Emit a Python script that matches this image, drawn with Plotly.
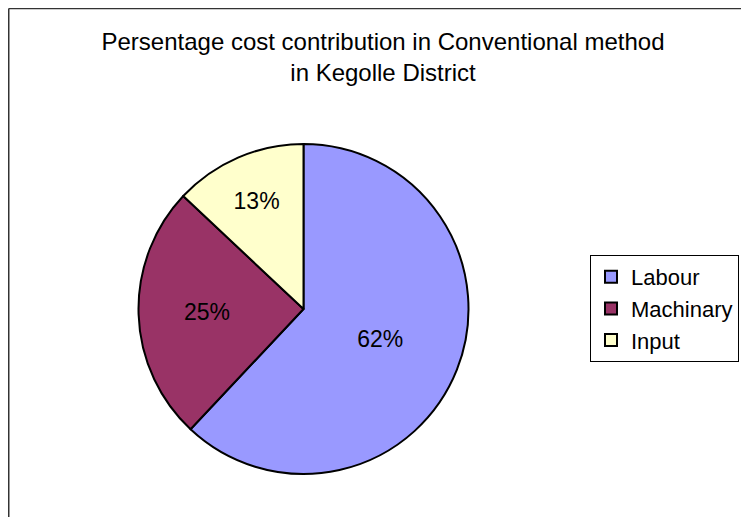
import plotly.graph_objects as go

labels = ["Labour", "Machinary", "Input"]
values = [62, 25, 13]
colors = ["#9999FF", "#993366", "#FFFFCC"]
title_text = "Persentage cost contribution in Conventional method<br>in Kegolle District"

W, H = 749, 517
OFF = 8  # page offset of the figure (body margin)


def px_x(x):
    return (x - OFF) / W


def px_y(y):
    return (H - (y - OFF)) / H


fig = go.Figure(go.Pie(
    labels=labels,
    values=values,
    sort=False,
    direction="clockwise",
    rotation=0,
    marker=dict(colors=colors, line=dict(color="black", width=2)),
    textinfo="percent",
    texttemplate="%{percent:.0%}",
    textposition="inside",
    insidetextorientation="horizontal",
    textfont=dict(family="Liberation Sans, Arial", size=23, color="black"),
    domain=dict(x=[px_x(138), px_x(469)], y=[px_y(474), px_y(144)]),
    hoverinfo="label+percent",
))

fig.update_layout(
    width=W, height=H,
    margin=dict(l=0, r=0, t=0, b=0),
    paper_bgcolor="white",
    plot_bgcolor="white",
    font=dict(family="Liberation Sans, Arial", color="black"),
    title=dict(
        text=title_text,
        x=px_x(383), xanchor="center",
        y=px_y(50), yanchor="top",
        font=dict(size=24, color="black"),
    ),
    legend=dict(
        x=px_x(590), xanchor="left",
        y=px_y(255), yanchor="top",
        bordercolor="black", borderwidth=1,
        bgcolor="white",
        font=dict(size=22, color="black"),
        itemwidth=30,
    ),
    shapes=[
        dict(type="line", xref="paper", yref="paper",
             x0=0.001, x1=1.0, y0=0.999, y1=0.999,
             line=dict(color="#333333", width=1.5)),
        dict(type="line", xref="paper", yref="paper",
             x0=0.001, x1=0.001, y0=0, y1=0.999,
             line=dict(color="#333333", width=1.5)),
    ],
)

fig.write_html("out.html")
